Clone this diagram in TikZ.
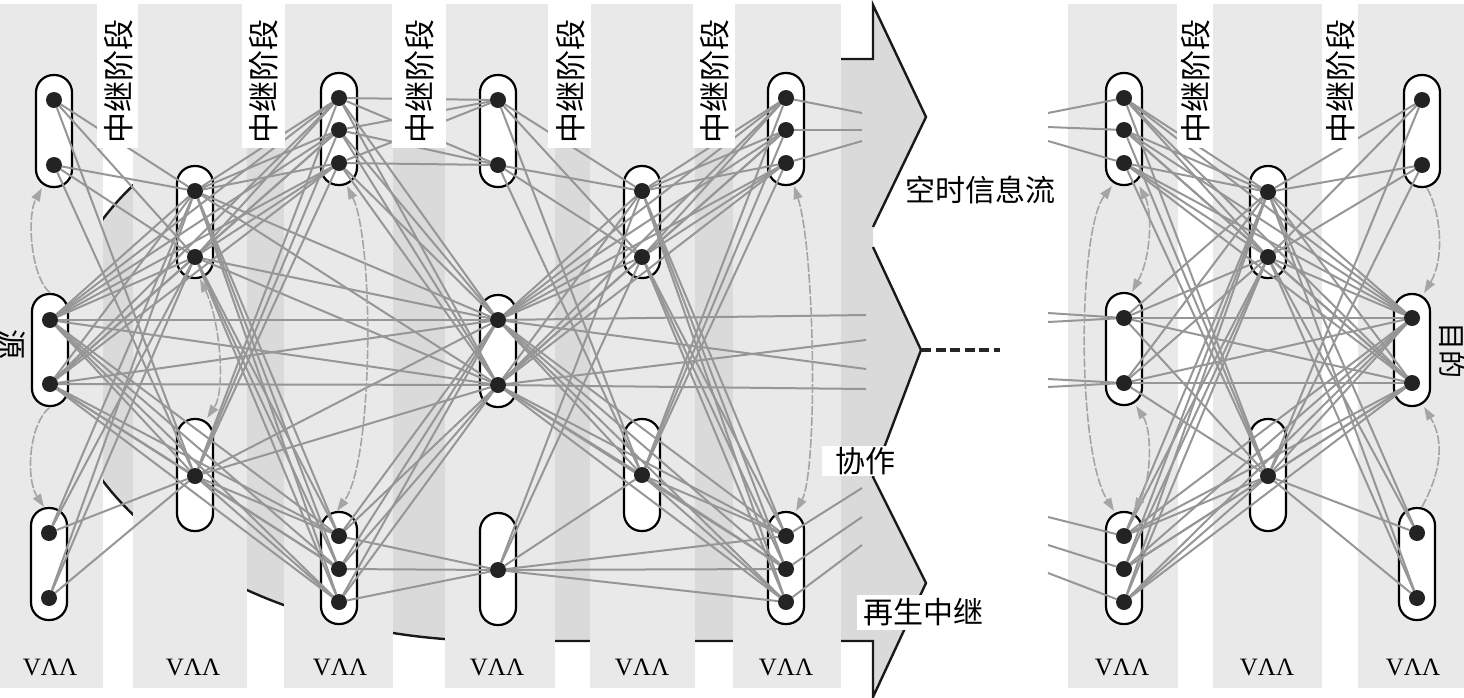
\documentclass[tikz,border=0pt]{standalone}
\usepackage{fontspec}
\setmainfont{Liberation Serif}
\newfontfamily\cjk{Noto Sans CJK SC}
\usetikzlibrary{arrows.meta}
\pgfdeclarelayer{bg}
\pgfdeclarelayer{vaa}
\pgfdeclarelayer{edges}
\pgfsetlayers{bg,vaa,edges,main}
\definecolor{colgray}{RGB}{233,233,233}
\definecolor{bodygray}{RGB}{218,218,218}
\definecolor{edgegray}{RGB}{150,150,150}
\definecolor{coopgray}{RGB}{165,165,165}
\definecolor{dotblack}{RGB}{35,35,35}
\tikzset{
  vaabox/.style={draw=black, line width=2.2pt, fill=white, rounded corners=17.5pt,
    minimum width=36pt, minimum height=112pt, inner sep=0pt},
  dotnode/.style={circle, fill=dotblack, minimum size=16pt, inner sep=0pt},
  lnk/.style={draw=edgegray, line width=2pt},
  coop/.style={draw=coopgray, line width=1.6pt, dash pattern=on 9pt off 2pt,
    >={Triangle[length=13pt,width=9pt]}},
  outline/.style={draw=black!90, line width=2.4pt, line join=miter},
  stagebox/.style={fill=white, minimum height=144pt, inner sep=0pt},
  stagetext/.style={font=\cjk\fontsize{31}{31}\selectfont, rotate=90, inner sep=0pt},
  cjktext/.style={font=\cjk\fontsize{30}{30}\selectfont, inner sep=0pt},
  vaatext/.style={font=\fontsize{25}{25}\selectfont, inner sep=0pt}
}
\begin{document}
\begin{tikzpicture}[x=1pt,y=-1pt]
\useasboundingbox (0,0) rectangle (1464,697);

% ---------- background ----------
\begin{pgfonlayer}{bg}
  \fill[bodygray] (873,59) -- (873,5) -- (926,117) -- (873,227) -- (873,247) -- (921,350)
    -- (873,477) -- (926,583) -- (873,697) -- (873,641) -- (496,641)
    .. controls (253,641) and (56,511) .. (56,350)
    .. controls (56,189) and (253,59) .. (496,59) -- cycle;
  \draw[outline] (873,227) -- (926,117) -- (873,5) -- (873,59) -- (496,59)
    .. controls (253,59) and (56,189) .. (56,350)
    .. controls (56,511) and (253,641) .. (496,641) -- (873,641) -- (873,697)
    -- (926,583) -- (873,477) -- (921,350) -- (873,247);
  \foreach \xa/\xb in {0/103,133/247,284/393,445/555,590/695,733/841,1068/1178,1213/1322,1358/1464}
    \fill[colgray] (\xa,4) rectangle (\xb,688);
\end{pgfonlayer}

% ---------- dots ----------
\foreach \n/\x/\y in {A1/54/100, A2/54/165, B1/50/320, B2/50/384, C1/49/533, C2/49/598,
  D1/195/191, D2/195/257, E/195/476,
  F1/339/98, F2/339/130, F3/339/163, G1/339/536, G2/339/569, G3/339/602,
  H1/498/100, H2/498/165, I1/498/320, I2/498/385, J/498/570,
  K1/642/191, K2/642/257, L/642/475,
  M1/786/98, M2/786/130, M3/786/163, N1/786/536, N2/786/569, N3/786/602,
  P1/1124/98, P2/1124/130, P3/1124/163, Q1/1124/318, Q2/1124/383, R1/1124/536, R2/1124/569, R3/1124/602,
  S1/1268/192, S2/1268/257, T/1268/476,
  U1/1422/100, U2/1422/165, V1/1412/318, V2/1412/383, W1/1417/533, W2/1417/598}
  \node[dotnode] (\n) at (\x,\y) {};

% ---------- VAA boxes ----------
\begin{pgfonlayer}{vaa}
\foreach \n/\x/\y in {VA/54/131, VB/50/350, VC/49/564, VD/195/222, VE/195/475,
  VF/339/129, VG/339/568, VH/498/131, VI/498/351, VJ/498/569, VK/642/222, VL/642/475,
  VM/786/129, VN/786/568, VP/1124/129, VQ/1124/349, VR/1124/568, VS/1268/222, VT/1268/475,
  VU/1422/131, VV/1412/350, VW/1417/564}
  \node[vaabox] (\n) at (\x,\y) {};
\end{pgfonlayer}

% ---------- free ends ----------
\coordinate (sm1) at (862,113); \coordinate (sm2) at (862,130); \coordinate (sm3) at (862,141);
\coordinate (si1) at (866,315); \coordinate (si2) at (866,340); \coordinate (si3) at (866,369); \coordinate (si4) at (866,389);
\coordinate (sn1) at (862,488); \coordinate (sn2) at (862,517); \coordinate (sn3) at (862,545);
\coordinate (sp1) at (1048,113); \coordinate (sp2) at (1048,127); \coordinate (sp3) at (1048,141);
\coordinate (sq1) at (1048,313); \coordinate (sq2) at (1048,322); \coordinate (sq3) at (1048,379); \coordinate (sq4) at (1048,387);
\coordinate (sr1) at (1048,517); \coordinate (sr2) at (1048,545); \coordinate (sr3) at (1048,573);
\coordinate (tip) at (921,350); \coordinate (dashend) at (1000,350);

% ---------- links ----------
\begin{pgfonlayer}{edges}
  \foreach \a in {A1,A2,B1,B2,C1,C2}{\foreach \b in {D1,D2,E}{\draw[lnk] (\a) -- (\b);}}
  \foreach \a in {D1,D2,E}{\foreach \b in {F1,F2,F3,G1,G2,G3,I1,I2}{\draw[lnk] (\a) -- (\b);}}
  \foreach \a in {F1,F2,F3}{\foreach \b in {H1,H2,I1,I2}{\draw[lnk] (\a) -- (\b);}}
  \foreach \a in {G1,G2,G3}{\foreach \b in {I1,I2,J}{\draw[lnk] (\a) -- (\b);}}
  \foreach \a in {H1,H2,I1,I2,J}{\foreach \b in {K1,K2,L}{\draw[lnk] (\a) -- (\b);}}
  \foreach \a in {K1,K2,L,I1,I2}{\foreach \b in {M1,M2,M3,N1,N2,N3}{\draw[lnk] (\a) -- (\b);}}
  \foreach \b in {N1,N2,N3}{\draw[lnk] (J) -- (\b);}
  \foreach \a in {B1,B2}{\foreach \b in {F1,F2,F3,G1,G2,G3,I1,I2}{\draw[lnk] (\a) -- (\b);}}
  \foreach \a in {P1,P2,P3,Q1,Q2,R1,R2,R3}{\foreach \b in {S1,S2,T,V1,V2}{\draw[lnk] (\a) -- (\b);}}
  \foreach \a in {S1,S2,T}{\foreach \b in {U1,U2,V1,V2,W1,W2}{\draw[lnk] (\a) -- (\b);}}
  \foreach \a/\b in {M1/sm1,M2/sm2,M3/sm3,I1/si1,I2/si2,I1/si3,I2/si4,N1/sn1,N2/sn2,N3/sn3,
     P1/sp1,P2/sp2,P3/sp3,Q1/sq1,Q1/sq2,Q2/sq3,Q2/sq4,R1/sr1,R2/sr2,R3/sr3}
     {\draw[lnk] (\a) -- (\b);}
  % cooperation arrows
  \draw[coop,->] (VB.north) .. controls (30,275) and (27,215) .. (VA.258);
  \draw[coop,->] (VB.south) .. controls (28,425) and (26,480) .. (VC.95);
  \draw[coop,<->] (VD.275) .. controls (220,320) and (226,390) .. (VE.78);
  \draw[coop,<->] (VF.278) .. controls (374,240) and (374,460) .. (VG.92);
  \draw[coop,<->] (VM.278) .. controls (815,250) and (818,470) .. (VN.80);
  \draw[coop,<->] (VP.258) .. controls (1078,230) and (1076,450) .. (VR.100);
  \draw[coop,<->] (VP.285) .. controls (1152,210) and (1152,255) .. (VQ.82);
  \draw[coop,<->] (VQ.282) .. controls (1152,430) and (1152,478) .. (VR.80);
  \draw[coop,->] (VU.275) .. controls (1442,215) and (1444,260) .. (VV.78);
  \draw[coop,->] (VW.85) .. controls (1442,470) and (1444,440) .. (VV.282);
  \draw[black!85, line width=4pt, dash pattern=on 10pt off 4.5pt] (tip) -- (dashend);
\end{pgfonlayer}

% ---------- stage labels ----------
\foreach \i/\x/\w in {1/117.5/41,2/263/43,3/419/54,4/569.5/43,5/714/42,6/1195/36,7/1340/36}{
  \node[stagebox, minimum width=\w pt] (sb\i) at (\x,76) {};
  \node[stagetext] (st\i) at (\x+1,81) {中继阶段};
}

% ---------- other texts ----------
\node[cjktext] (flow) at (980,190) {空时信息流};
\node[fill=white, minimum width=73pt, minimum height=30pt, inner sep=0pt] (coopbox) at (858.5,460.5) {};
\node[cjktext] (cooptext) at (865,461) {协作};
\node[fill=white, minimum width=133pt, minimum height=35pt, inner sep=0pt] (regenbox) at (923.5,612.5) {};
\node[cjktext] (regen) at (923.5,612) {再生中继};
\node[cjktext, rotate=-90] (src) at (12,344) {源};
\node[font=\cjk\fontsize{28}{28}\selectfont, inner sep=0pt, rotate=-90] (dst) at (1452,350) {目的};

\foreach \i/\x in {1/50,2/193,3/340,4/497,5/642,6/786,7/1122,8/1267,9/1413}
  \node[vaatext] (vaa\i) at (\x,667) {VΛΛ};
\end{tikzpicture}
\end{document}
